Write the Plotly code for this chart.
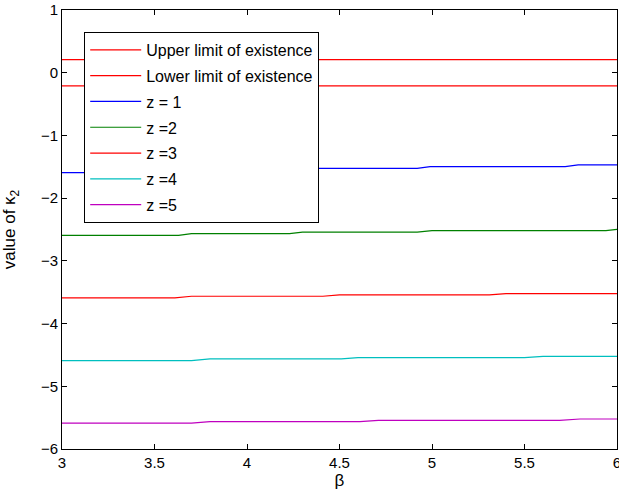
import plotly.graph_objects as go

# beta breakpoints and values of kappa_2 for each z
beta_limits = [3.0, 6.0]
upper_limit = [0.21, 0.21]
lower_limit = [-0.21, -0.21]

beta_z1 = [3.0, 3.45, 3.52, 4.05, 4.12, 4.92, 4.99, 5.72, 5.79, 6.0]
k2_z1 = [-1.593, -1.593, -1.56, -1.56, -1.524, -1.524, -1.497, -1.497, -1.471, -1.471]

beta_z2 = [3.0, 3.63, 3.70, 4.23, 4.30, 4.92, 5.0, 5.94, 6.0]
k2_z2 = [-2.594, -2.594, -2.567, -2.567, -2.541, -2.541, -2.519, -2.519, -2.498]

beta_z3 = [3.0, 3.61, 3.70, 4.41, 4.50, 5.31, 5.40, 6.0]
k2_z3 = [-3.590, -3.590, -3.564, -3.564, -3.542, -3.542, -3.521, -3.521]

beta_z4 = [3.0, 3.70, 3.80, 4.51, 4.60, 5.50, 5.60, 6.0]
k2_z4 = [-4.591, -4.591, -4.564, -4.564, -4.543, -4.543, -4.522, -4.522]

beta_z5 = [3.0, 3.70, 3.80, 4.61, 4.71, 5.69, 5.80, 6.0]
k2_z5 = [-5.586, -5.586, -5.565, -5.565, -5.544, -5.544, -5.522, -5.522]

x_ticks = [3, 3.5, 4, 4.5, 5, 5.5, 6]
x_tick_labels = ["3", "3.5", "4", "4.5", "5", "5.5", "6"]
y_ticks = [1, 0, -1, -2, -3, -4, -5, -6]
y_tick_labels = ["1", "0", "\u22121", "\u22122", "\u22123", "\u22124", "\u22125", "\u22126"]

series = [
    ("Upper limit of existence", beta_limits, upper_limit, "#ff0000"),
    ("Lower limit of existence", beta_limits, lower_limit, "#ff0000"),
    ("z = 1", beta_z1, k2_z1, "#0000ff"),
    ("z =2", beta_z2, k2_z2, "#008000"),
    ("z =3", beta_z3, k2_z3, "#ff0000"),
    ("z =4", beta_z4, k2_z4, "#00bfbf"),
    ("z =5", beta_z5, k2_z5, "#bf00bf"),
]

FONT = "Liberation Sans, Arial, sans-serif"

fig = go.Figure()
for i, (name, xs, ys, color) in enumerate(series):
    fig.add_trace(go.Scatter(
        x=xs, y=ys, mode="lines", name=name, legendgroup=f"g{i}",
        line=dict(color=color, width=1.2),
    ))

axis_style = dict(
    showline=True, linecolor="black", linewidth=1, mirror="allticks",
    ticks="inside", ticklen=5, tickcolor="black", showgrid=False, zeroline=False,
    ticklabeloverflow="allow", automargin=False,
    tickfont=dict(family=FONT, size=15, color="black"),
)

fig.update_layout(
    width=619, height=493,
    margin=dict(l=62, r=2, t=10, b=44, autoexpand=False),
    paper_bgcolor="white", plot_bgcolor="white",
    font=dict(family=FONT, size=14, color="black"),
    xaxis=dict(range=[3, 6], tickvals=x_ticks, ticktext=x_tick_labels,
               title=dict(text="\u03b2", standoff=4), **axis_style),
    yaxis=dict(range=[-6, 1], tickvals=y_ticks, ticktext=y_tick_labels,
               title=dict(text="value of \u03ba<sub>2</sub>", standoff=24), **axis_style),
    legend=dict(
        x=0.04, y=0.95, xanchor="left", yanchor="top",
        bgcolor="white", bordercolor="black", borderwidth=1,
        font=dict(family=FONT, size=16, color="black"),
        tracegroupgap=2, traceorder="grouped", itemwidth=51,
    ),
    showlegend=True,
)

fig.write_html("out.html")
